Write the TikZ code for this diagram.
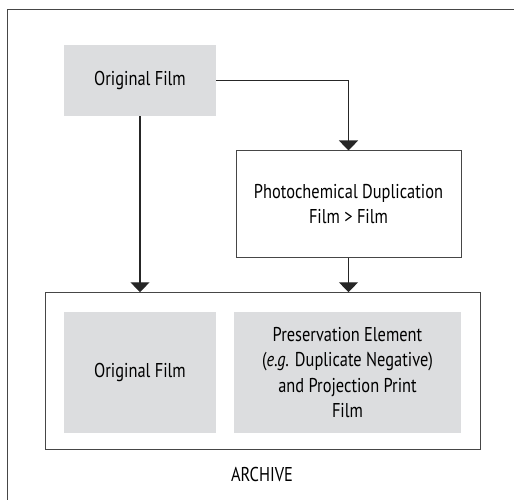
\documentclass[tikz,border=0pt]{standalone}
\usepackage{fontspec}
\setmainfont{PT Sans}[FakeStretch=0.82]
\usetikzlibrary{arrows.meta}
\definecolor{boxgray}{RGB}{220,221,223}
\definecolor{linegray}{RGB}{70,70,70}
\tikzset{
  graybox/.style={fill=boxgray,inner sep=0pt,align=center,font=\fontsize{20}{25.5}\selectfont},
  framebox/.style={draw=linegray,line width=1pt,inner sep=0pt,align=center,font=\fontsize{20}{25.5}\selectfont},
  flow/.style={line width=1.2pt,draw=black!85,-{Triangle[width=19pt,length=10pt]}}
}
\begin{document}
\begin{tikzpicture}[x=1pt,y=-1pt]
		\useasboundingbox (0,0) rectangle (514,500);
		\draw[linegray,line width=1pt] (7.5,520) -- (7.5,9.5) -- (530,9.5);
		\node[graybox,minimum width=152pt,minimum height=71pt](orig) at (140,80.5) {Original Film};
		\node[framebox,minimum width=225pt,minimum height=106pt](dup) at (348.5,204) {Photochemical Duplication\\Film > Film};
		\node[framebox,minimum width=435.5pt,minimum height=156.5pt](arch) at (262.75,371) {};
		\node[graybox,minimum width=152pt,minimum height=121pt](keep) at (140,372.5) {Original Film};
		\node[graybox,minimum width=227pt,minimum height=121pt](pres) at (347.5,372.5) {Preservation Element\\(\textit{e.g.} Duplicate Negative)\\and Projection Print\\Film};
		\node[font=\fontsize{20}{25.5}\selectfont](L) at (262,474) {ARCHIVE};
		\draw[flow] (orig.east) -| (dup.north);
		\draw[flow] (orig.south) -- (orig.south |- arch.north);
		\draw[flow] (dup.south) -- (dup.south |- arch.north);
\end{tikzpicture}
\end{document}
